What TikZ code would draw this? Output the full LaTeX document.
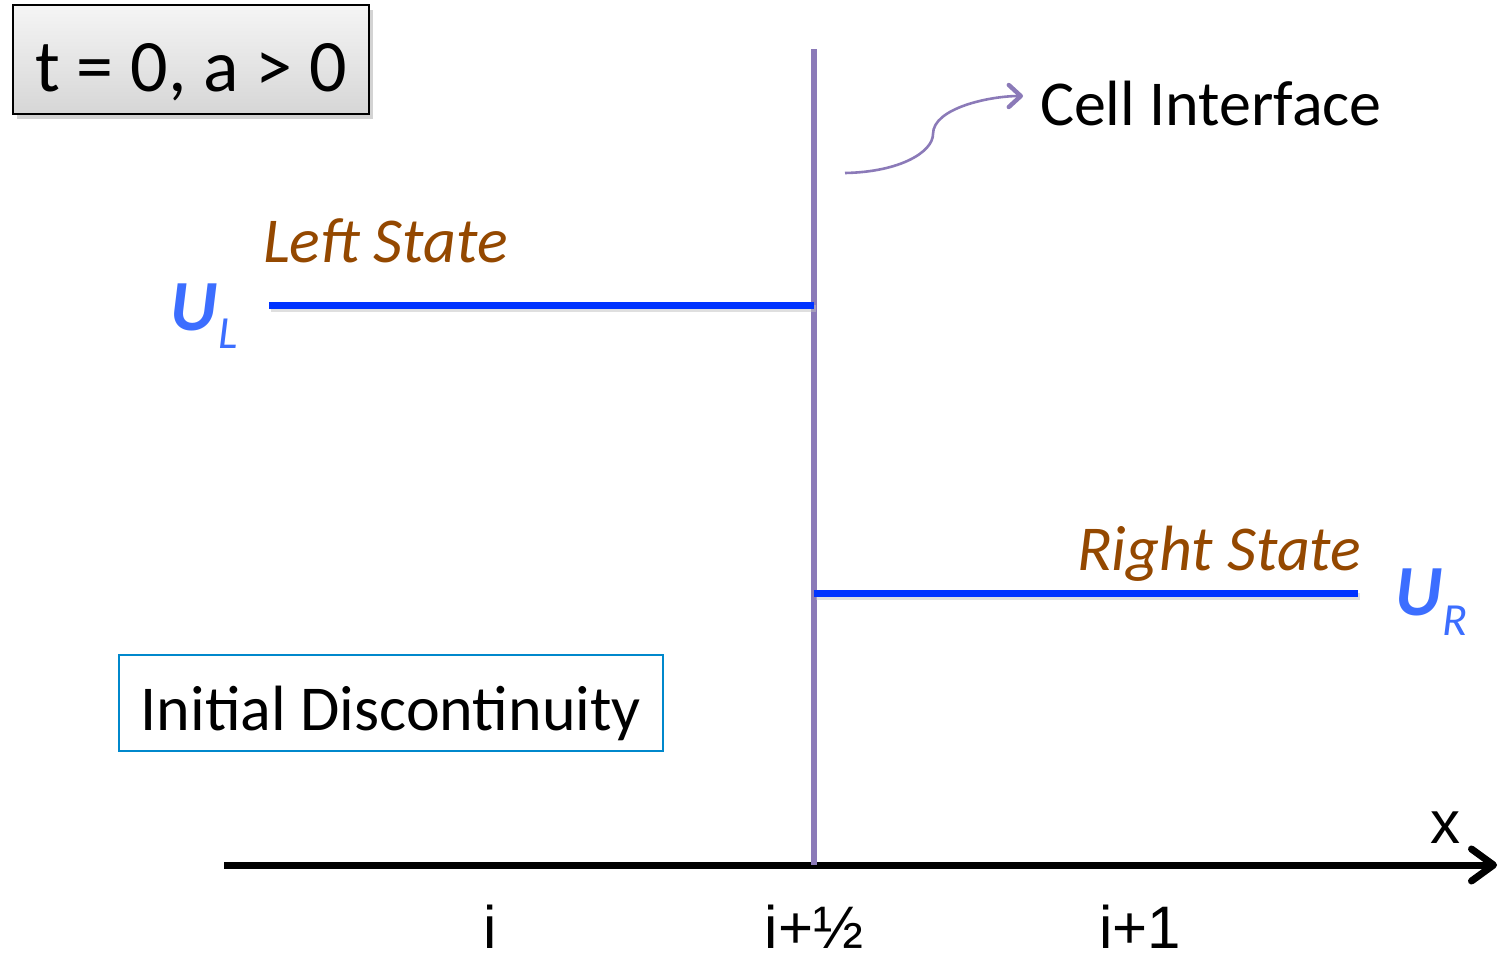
\documentclass[tikz,border=0pt]{standalone}
\usepackage{fontspec}
\setmainfont{Carlito}
\newfontfamily\arialf{Liberation Sans}
\usetikzlibrary{arrows.meta,shadows}
\definecolor{ifpurple}{RGB}{139,122,184}
\definecolor{stateblue}{RGB}{0,51,255}
\definecolor{ublue}{RGB}{60,110,255}
\definecolor{brownlbl}{RGB}{148,72,0}
\definecolor{boxblue}{RGB}{0,136,204}
\tikzset{
  lbl/.style={inner sep=0pt,outer sep=0pt},
  statetxt/.style={lbl,anchor=base west,text=brownlbl,font=\fontsize{32}{38}\selectfont\itshape},
  ubig/.style={lbl,anchor=base west,text=ublue,font=\fontsize{36}{40}\selectfont\bfseries\itshape},
  usub/.style={lbl,anchor=base west,text=ublue,font=\fontsize{23}{26}\selectfont\itshape},
  axlbl/.style={lbl,anchor=base,font=\fontsize{30}{34}\selectfont\arialf},
  stateline/.style={draw=stateblue,line width=3.5pt},
}
\begin{document}
\begin{tikzpicture}[x=0.5pt,y=-0.5pt]
\useasboundingbox (0,0) rectangle (1500,958);

% top-left label box
\node[draw=black,line width=1pt,top color=gray!8,bottom color=gray!32,
      drop shadow={shadow xshift=2pt,shadow yshift=-2.5pt,opacity=0.35},
      anchor=north west,inner xsep=0pt,inner ysep=0pt,minimum width=178pt,
      text height=43pt,text depth=11.5pt,
      font=\fontsize{37}{42}\selectfont] (tbox) at (12,4) {t = 0, a > 0};

% x axis
\coordinate (axL) at (224,865);
\coordinate (axR) at (1497,865);
\draw[line width=3.5pt,-{Straight Barb[length=11pt,width=16pt,round]}] (axL) -- (axR);

% cell interface line
\coordinate (ifTop) at (814,49);
\coordinate (ifBot) at (814,865);
\draw[ifpurple,line width=3pt] (ifTop) -- (ifBot);

% states
\coordinate (lsL) at (269,305);
\coordinate (lsR) at (814,305);
\coordinate (rsL) at (814,593);
\coordinate (rsR) at (1358,593);
\draw[stateline,draw=black!25,opacity=0.5] ([shift={(1pt,-1.5pt)}]lsL) -- ([shift={(1pt,-1.5pt)}]lsR);
\draw[stateline,draw=black!25,opacity=0.5] ([shift={(1pt,-1.5pt)}]rsL) -- ([shift={(1pt,-1.5pt)}]rsR);
\draw[stateline] (lsL) -- (lsR);
\draw[stateline] (rsL) -- (rsR);

\node[statetxt] (lstate) at (263,262) {Left State};
\node[statetxt] (rstate) at (1077,570) {Right State};

\node[ubig] (UL) at (170,330) {U};
\node[usub] (ULs) at (218,348) {L};
\node[ubig] (UR) at (1395,615) {U};
\node[usub] (URs) at (1442,635) {R};

% cell interface label and arrow
\node[lbl,anchor=base west,font=\fontsize{32}{38}\selectfont] (cell) at (1040,125) {Cell Interface};
\coordinate (cstart) at (845,173);
\draw[ifpurple,line width=1.3pt,-{Straight Barb[length=6pt,width=11pt,line width=2.2pt,round]}]
  (cstart) .. controls (900,172) and (933,152) .. (933,134)
  .. controls (933,108) and (990,96) .. ([shift={(-8.5pt,3.5pt)}]cell.west);

% initial discontinuity box
\node[draw=boxblue,line width=0.8pt,anchor=north west,inner xsep=0pt,inner ysep=0pt,
      minimum width=272pt,text height=38pt,text depth=10pt,
      font=\fontsize{32}{38}\selectfont] (idisc) at (118,654) {Initial Discontinuity};

% axis labels
\node[axlbl] (xl) at (1445,843) {x};
\node[axlbl] (li) at (490,948) {i};
\node[axlbl] (lih) at (814,948) {i+½};
\node[axlbl] (lip) at (1140,948) {i+1};
\end{tikzpicture}
\end{document}
